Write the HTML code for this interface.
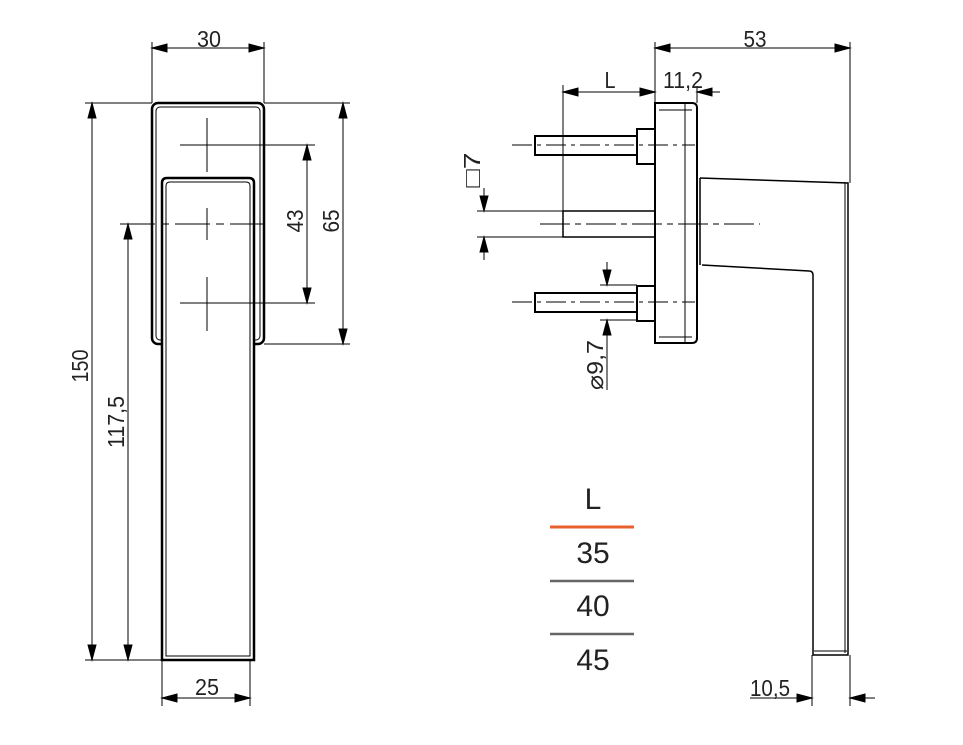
<!DOCTYPE html>
<html><head><style>body{margin:0;background:#fff}svg{display:block}text{font-family:"Liberation Sans",sans-serif;fill:#222}.ar{fill:#000;stroke:#000;stroke-width:1}</style></head>
<body>
<svg width="963" height="745" viewBox="0 0 963 745" xmlns="http://www.w3.org/2000/svg">
<g stroke="#000" fill="none">
<rect x="152" y="103" width="112" height="241" rx="6" stroke-width="2.5"/>
<rect x="156" y="107" width="104" height="233" rx="4" stroke-width="1"/>
<path d="M162,660V183q0-5 5-5H249q5 0 5 5V660z" stroke-width="2.5" fill="#fff"/>
<path d="M166,656V186q0-4 4-4H246q4 0 4 4V656z" stroke-width="1"/>
<g stroke-width="1">
<line x1="180" y1="145" x2="315" y2="145"/><line x1="207" y1="118" x2="207" y2="172"/>
<line x1="180" y1="303" x2="315" y2="303"/><line x1="207" y1="277" x2="207" y2="331"/>
<line x1="120" y1="224" x2="265" y2="224" stroke-dasharray="35,6,8,6"/><line x1="207" y1="208" x2="207" y2="240"/>
<line x1="152" y1="42" x2="152" y2="103"/><line x1="264" y1="42" x2="264" y2="103"/>
<line x1="152" y1="48" x2="264" y2="48"/>
<line x1="85" y1="103" x2="152" y2="103"/><line x1="85" y1="660" x2="162" y2="660"/>
<line x1="92" y1="103" x2="92" y2="660"/>
<line x1="128" y1="224" x2="128" y2="660"/>
<line x1="307" y1="145" x2="307" y2="303"/>
<line x1="264" y1="103" x2="350" y2="103"/><line x1="264" y1="344" x2="350" y2="344"/>
<line x1="343" y1="103" x2="343" y2="344"/>
<line x1="162" y1="660" x2="162" y2="706"/><line x1="250" y1="660" x2="250" y2="706"/>
<line x1="162" y1="698" x2="250" y2="698"/>
</g>
<path d="M655,103H692q5 0 5 5V338q0 5-5 5H655z" stroke-width="2"/>
<line x1="685" y1="104" x2="685" y2="342" stroke-width="1"/>
<line x1="659" y1="110" x2="692" y2="110" stroke-width="1"/>
<line x1="659" y1="337" x2="692" y2="337" stroke-width="1"/>
<rect x="563" y="211" width="92" height="26" stroke-width="1.5"/>
<path d="M637,129H655V164H637z M535,136H637V155H535z" stroke-width="2"/>
<path d="M637,286H655V321H637z M535,293H637V312H535z" stroke-width="2"/>
<g stroke-width="1">
<line x1="512" y1="145" x2="695" y2="145" stroke-dasharray="20,5,4,5"/>
<line x1="512" y1="302" x2="695" y2="302" stroke-dasharray="20,5,4,5"/>
<line x1="540" y1="224" x2="760" y2="224" stroke-dasharray="30,5,6,5"/>
</g>
<path d="M700,178L848,183V655H813V275q0-4-4-4L702,265" stroke-width="1.5"/>
<line x1="700" y1="178" x2="700" y2="265" stroke-width="1.5"/>
<line x1="845" y1="183" x2="845" y2="653" stroke-width="1"/>
<line x1="814" y1="651" x2="847" y2="651" stroke-width="1"/>
<g stroke-width="1">
<line x1="655" y1="42" x2="655" y2="103"/><line x1="850" y1="42" x2="850" y2="183"/>
<line x1="655" y1="48" x2="850" y2="48"/>
<line x1="563" y1="85" x2="563" y2="211"/>
<line x1="563" y1="92" x2="655" y2="92"/>
<line x1="697" y1="86" x2="697" y2="103"/>
<line x1="720" y1="92" x2="697" y2="92"/>
<line x1="477" y1="211" x2="563" y2="211"/><line x1="477" y1="237" x2="563" y2="237"/>
<line x1="484" y1="188" x2="484" y2="211"/>
<line x1="484" y1="260" x2="484" y2="237"/>
<line x1="600" y1="285" x2="637" y2="285"/><line x1="600" y1="320" x2="637" y2="320"/>
<line x1="607" y1="262" x2="607" y2="285"/>
<line x1="607" y1="390" x2="607" y2="320"/>
<line x1="812" y1="655" x2="812" y2="706"/><line x1="850" y1="655" x2="850" y2="706"/>
<line x1="750" y1="698" x2="812" y2="698"/>
<line x1="875" y1="698" x2="850" y2="698"/>
</g>
<line x1="550" y1="527" x2="634" y2="527" stroke="#e8602c" stroke-width="3"/>
<line x1="550" y1="581" x2="634" y2="581" stroke="#666" stroke-width="2.5"/>
<line x1="550" y1="634" x2="634" y2="634" stroke="#666" stroke-width="2.5"/>
</g>
<path class="ar" d="M152,48L167,44L167,52Z M264,48L249,44L249,52Z M162,698L177,694L177,702Z M250,698L235,694L235,702Z M655,48L670,44L670,52Z M850,48L835,44L835,52Z M563,92L578,88L578,96Z M655,92L640,88L640,96Z M697,92L712,88L712,96Z M812,698L797,694L797,702Z M850,698L865,694L865,702Z M92,103L88,118L96,118Z M92,660L88,645L96,645Z M128,224L124,239L132,239Z M128,660L124,645L132,645Z M307,145L303,160L311,160Z M307,303L303,288L311,288Z M343,103L339,118L347,118Z M343,344L339,329L347,329Z M484,211L480,196L488,196Z M484,237L480,252L488,252Z M607,285L603,270L611,270Z M607,320L603,335L611,335Z"/>
<g font-size="23" text-anchor="middle" lengthAdjust="spacingAndGlyphs">
<text x="209" y="47" textLength="24" lengthAdjust="spacingAndGlyphs">30</text>
<text x="207" y="695" textLength="24" lengthAdjust="spacingAndGlyphs">25</text>
<text x="755" y="47" textLength="23" lengthAdjust="spacingAndGlyphs">53</text>
<text x="610" y="88" textLength="11" lengthAdjust="spacingAndGlyphs">L</text>
<text x="683" y="88" textLength="40" lengthAdjust="spacingAndGlyphs">11,2</text>
<text x="770" y="696" textLength="40" lengthAdjust="spacingAndGlyphs">10,5</text>
<text transform="translate(88,366) rotate(-90)" textLength="33" lengthAdjust="spacingAndGlyphs">150</text>
<text transform="translate(124,422) rotate(-90)" textLength="52" lengthAdjust="spacingAndGlyphs">117,5</text>
<text transform="translate(303,221) rotate(-90)" textLength="23" lengthAdjust="spacingAndGlyphs">43</text>
<text transform="translate(339,221) rotate(-90)" textLength="23" lengthAdjust="spacingAndGlyphs">65</text>
<text transform="translate(480,170) rotate(-90)" textLength="35" lengthAdjust="spacingAndGlyphs">□7</text>
<text transform="translate(603,365) rotate(-90)" textLength="50" lengthAdjust="spacingAndGlyphs">⌀9,7</text>
</g>
<g font-size="30" text-anchor="middle">
<text x="593" y="509">L</text>
<text x="593" y="563">35</text>
<text x="593" y="616">40</text>
<text x="593" y="670">45</text>
</g>
</svg>
</body></html>
